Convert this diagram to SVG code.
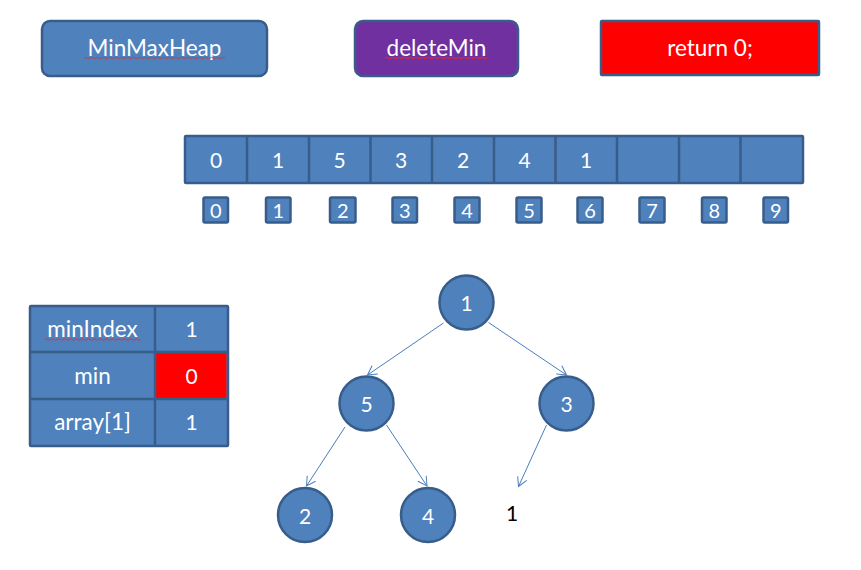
<svg xmlns="http://www.w3.org/2000/svg" width="861" height="570" viewBox="0 0 861 570">
<style>
.box{fill:#4F81BD;stroke:#385D8A;stroke-width:2.5}
.purple{fill:#7030A0;stroke:#385D8A;stroke-width:2.5}
.red{fill:#FF0000;stroke:#385D8A;stroke-width:2.5}
.t{font-family:Lato,"Liberation Sans",sans-serif;fill:#fff;text-anchor:middle;dominant-baseline:central}
.big{font-size:22.5px}
.dg{font-size:21px}
.sm{font-size:20px}
.edge{stroke:#4A7EBB;stroke-width:1;fill:none}
.sq{stroke:#E03030;stroke-width:0.9;fill:none}
</style>
<defs>
<marker id="arr" markerWidth="12" markerHeight="12" refX="10" refY="6" orient="auto" markerUnits="userSpaceOnUse">
<path d="M1,1 L10,6 L1,11" fill="none" stroke="#4A7EBB" stroke-width="1"/>
</marker>
</defs>
<rect width="861" height="570" fill="#fff"/>

<g id="minmaxheap">
<rect class="box" x="42" y="21" width="225" height="55" rx="8"/>
<text class="t big" x="154.5" y="47">MinMaxHeap</text>
<path class="sq" d="M84,58 q1.5,-1.5 3,0 t3,0 t3,0 t3,0 t3,0 t3,0 t3,0 t3,0 t3,0 t3,0 t3,0 t3,0 t3,0 t3,0 t3,0 t3,0 t3,0 t3,0 t3,0 t3,0 t3,0 t3,0 t3,0 t3,0 t3,0 t3,0 t3,0 t3,0 t3,0 t3,0 t3,0 t3,0 t3,0 t3,0 t3,0 t3,0 t3,0 t3,0 t3,0 t3,0 t3,0 t3,0 t3,0 t3,0 t3,0 t3,0 t3,0"/>
</g>
<g id="deletemin">
<rect class="purple" x="355" y="21" width="163" height="55" rx="8"/>
<text class="t big" x="436.5" y="47">deleteMin</text>
<path class="sq" d="M385,58 q1.5,-1.5 3,0 t3,0 t3,0 t3,0 t3,0 t3,0 t3,0 t3,0 t3,0 t3,0 t3,0 t3,0 t3,0 t3,0 t3,0 t3,0 t3,0 t3,0 t3,0 t3,0 t3,0 t3,0 t3,0 t3,0 t3,0 t3,0 t3,0 t3,0 t3,0 t3,0 t3,0 t3,0 t3,0 t3,0"/>
</g>
<g id="return0">
<rect class="red" x="601" y="21" width="218" height="54" rx="1"/>
<text class="t big" x="710" y="47">return 0;</text>
</g>

<g id="array">
<rect class="box" x="185" y="136" width="618" height="47" rx="1"/>
<g class="box">
<line x1="247" y1="136" x2="247" y2="183"/>
<line x1="309" y1="136" x2="309" y2="183"/>
<line x1="370.5" y1="136" x2="370.5" y2="183"/>
<line x1="432" y1="136" x2="432" y2="183"/>
<line x1="494" y1="136" x2="494" y2="183"/>
<line x1="555.5" y1="136" x2="555.5" y2="183"/>
<line x1="617" y1="136" x2="617" y2="183"/>
<line x1="679" y1="136" x2="679" y2="183"/>
<line x1="740.5" y1="136" x2="740.5" y2="183"/>
</g>
<text class="t dg" x="216" y="159.5">0</text>
<text class="t dg" x="278" y="159.5">1</text>
<text class="t dg" x="339.5" y="159.5">5</text>
<text class="t dg" x="401" y="159.5">3</text>
<text class="t dg" x="463" y="159.5">2</text>
<text class="t dg" x="524.5" y="159.5">4</text>
<text class="t dg" x="586" y="159.5">1</text>
</g>

<g id="indices">
<rect class="box" x="203.5" y="197.5" width="24.5" height="25" rx="1.5"/><text class="t sm" x="215.75" y="210">0</text>
<rect class="box" x="266" y="197.5" width="24.5" height="25" rx="1.5"/><text class="t sm" x="278.25" y="210">1</text>
<rect class="box" x="330" y="197.5" width="25.5" height="25" rx="1.5"/><text class="t sm" x="342.75" y="210">2</text>
<rect class="box" x="392.5" y="197.5" width="24.5" height="25" rx="1.5"/><text class="t sm" x="404.75" y="210">3</text>
<rect class="box" x="454.5" y="197.5" width="25" height="25" rx="1.5"/><text class="t sm" x="467" y="210">4</text>
<rect class="box" x="516.5" y="197.5" width="25" height="25" rx="1.5"/><text class="t sm" x="529" y="210">5</text>
<rect class="box" x="577.5" y="197.5" width="25" height="25" rx="1.5"/><text class="t sm" x="590" y="210">6</text>
<rect class="box" x="639.5" y="197.5" width="25" height="25" rx="1.5"/><text class="t sm" x="652" y="210">7</text>
<rect class="box" x="702" y="197.5" width="24.5" height="25" rx="1.5"/><text class="t sm" x="714.25" y="210">8</text>
<rect class="box" x="763.5" y="197.5" width="24.5" height="25" rx="1.5"/><text class="t sm" x="775.75" y="210">9</text>
</g>

<g id="vartable">
<rect class="box" x="30" y="306" width="198" height="140" rx="1"/>
<rect class="red" x="155.5" y="353" width="71" height="45" style="stroke:none"/>
<g class="box">
<line x1="155" y1="306" x2="155" y2="446"/>
<line x1="30" y1="352" x2="228" y2="352"/>
<line x1="30" y1="399" x2="228" y2="399"/>
</g>
<text class="t big" x="92.5" y="328.5">minIndex</text>
<path class="sq" d="M45,339.5 q1.5,-1.5 3,0 t3,0 t3,0 t3,0 t3,0 t3,0 t3,0 t3,0 t3,0 t3,0 t3,0 t3,0 t3,0 t3,0 t3,0 t3,0 t3,0 t3,0 t3,0 t3,0 t3,0 t3,0 t3,0 t3,0 t3,0 t3,0 t3,0 t3,0 t3,0 t3,0 t3,0 t3,0"/>
<text class="t dg" x="191.5" y="328.5">1</text>
<text class="t big" x="92.5" y="375.5">min</text>
<text class="t dg" x="191.5" y="375.5">0</text>
<text class="t big" x="92.5" y="421.5">array[1]</text>
<text class="t dg" x="191.5" y="421.5">1</text>
</g>

<g id="edges">
<line class="edge" x1="443.5" y1="323" x2="367.5" y2="375" marker-end="url(#arr)"/>
<line class="edge" x1="488.5" y1="322.5" x2="566.5" y2="375" marker-end="url(#arr)"/>
<line class="edge" x1="345" y1="427" x2="306.5" y2="486" marker-end="url(#arr)"/>
<line class="edge" x1="386.5" y1="425" x2="427" y2="486" marker-end="url(#arr)"/>
<line class="edge" x1="546.5" y1="425" x2="518.5" y2="486.5" marker-end="url(#arr)"/>
</g>

<g id="n1"><circle class="box" cx="466.5" cy="302.5" r="27"/><text class="t dg" x="466.5" y="302.5">1</text></g>
<g id="n5"><circle class="box" cx="366.5" cy="403.5" r="27"/><text class="t dg" x="366.5" y="403.5">5</text></g>
<g id="n3"><circle class="box" cx="566.5" cy="403.5" r="27"/><text class="t dg" x="566.5" y="403.5">3</text></g>
<g id="n2"><circle class="box" cx="305" cy="515" r="27"/><text class="t dg" x="305" y="515">2</text></g>
<g id="n4"><circle class="box" cx="428" cy="515" r="27"/><text class="t dg" x="428" y="515">4</text></g>
<g id="n1leaf"><text class="t dg" x="512" y="512" style="fill:#000">1</text></g>
</svg>
